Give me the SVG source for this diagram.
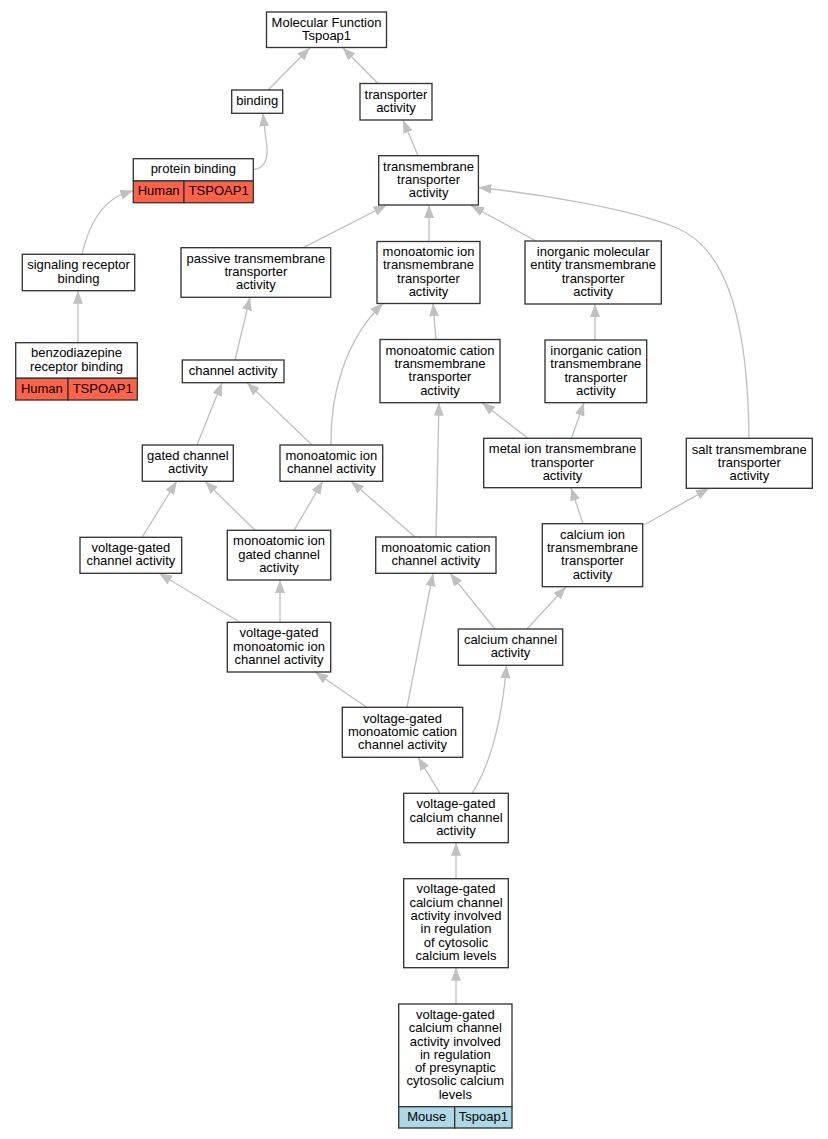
<svg xmlns="http://www.w3.org/2000/svg" width="828" height="1139" viewBox="0 0 828 1139">
<style>
text{font-family:"Liberation Sans",Arial,sans-serif;font-size:13px;text-anchor:middle;fill:#000}
.box{fill:#fff;stroke:#333;stroke-width:1.33}
.red{fill:#ff6347;stroke:#333;stroke-width:1.33}
.blue{fill:#add8e6;stroke:#333;stroke-width:1.33}
.e{fill:none;stroke:#c0c0c0;stroke-width:1.33;marker-end:url(#ah)}
</style>
<defs>
<marker id="ah" markerUnits="userSpaceOnUse" viewBox="0 0 13 10" markerWidth="13" markerHeight="10" refX="13" refY="5" orient="auto">
<path d="M0,0 L13,5 L0,10 z" fill="#c0c0c0"/>
</marker>
</defs>
<rect width="828" height="1139" fill="#fff"/>
<g id="edges">
<path class="e" d="M268,90 L310,47.7"/>
<path class="e" d="M378,83.5 L342.7,47.7"/>
<path class="e" d="M253.3,169.3 C262,169.3 268,162 267,148 C266,138 264,125 263,113.3"/>
<path class="e" d="M82,254.3 C88,228 100,205 120,195 L133.3,190.5"/>
<path class="e" d="M78,342.7 L78,290.7"/>
<path class="e" d="M418,155.7 L403,120"/>
<path class="e" d="M303.3,247.7 L386.7,205"/>
<path class="e" d="M429,241.5 L429,205"/>
<path class="e" d="M536,241 L471,205.5"/>
<path class="e" d="M749,438.3 C748,330 730,250 677,228 C625,207 530,193 478.3,187.5"/>
<path class="e" d="M436,339.5 L433,303.3"/>
<path class="e" d="M595,340 L595,304"/>
<path class="e" d="M235,360 L250,297.3"/>
<path class="e" d="M331,445 C330,395 345,340 383,303.3"/>
<path class="e" d="M528,438.3 L482,402.7"/>
<path class="e" d="M571.5,438.3 L584,402.7"/>
<path class="e" d="M197,445 L222,382.7"/>
<path class="e" d="M312,445 L247,382.7"/>
<path class="e" d="M583,523.7 L571,487.7"/>
<path class="e" d="M644,525 L709,488.3"/>
<path class="e" d="M142,537.3 L176.7,481.3"/>
<path class="e" d="M255,530.3 L205,481.3"/>
<path class="e" d="M294,530.3 L322.7,481.3"/>
<path class="e" d="M415,537 L351,481.3"/>
<path class="e" d="M436,537 L439,402.7"/>
<path class="e" d="M240,622.3 L159,573.3"/>
<path class="e" d="M280,622.3 L280,580"/>
<path class="e" d="M495,629 L450,573.3"/>
<path class="e" d="M527,629 L566,586.7"/>
<path class="e" d="M366.7,707.3 L315,672"/>
<path class="e" d="M407,707.3 L433,573.3"/>
<path class="e" d="M440,793.3 L418,757.3"/>
<path class="e" d="M472,793.3 C492,762 502,720 506.5,665.3"/>
<path class="e" d="M456,878.7 L456,842.7"/>
<path class="e" d="M456,1004 L456,967.7"/>
</g>
<g id="n_mf"><rect class="box" x="266.5" y="12" width="120" height="35.5"/><text x="326.5" y="26.6">Molecular Function</text><text x="326.5" y="39.9">Tspoap1</text></g>
<g id="n_binding"><rect class="box" x="231.7" y="90" width="51" height="23.3"/><text x="257.2" y="105.15">binding</text></g>
<g id="n_transporter"><rect class="box" x="360" y="83.5" width="72" height="36.5"/><text x="396" y="98.6">transporter</text><text x="396" y="111.9">activity</text></g>
<g id="n_protein"><rect class="box" x="133.3" y="158.7" width="120" height="22.3"/><rect class="red" x="133.3" y="181" width="50.7" height="21.7"/><rect class="red" x="184" y="181" width="69.3" height="21.7"/><text x="193.3" y="173.3">protein binding</text><text x="158.65" y="195.3">Human</text><text x="218.65" y="195.3">TSPOAP1</text></g>
<g id="n_tm"><rect class="box" x="378.7" y="155.7" width="99.7" height="49.3"/><text x="428.55" y="170.55">transmembrane</text><text x="428.55" y="183.85">transporter</text><text x="428.55" y="197.15">activity</text></g>
<g id="n_signal"><rect class="box" x="22.3" y="254.3" width="112.4" height="36.4"/><text x="78.5" y="269.35">signaling receptor</text><text x="78.5" y="282.65">binding</text></g>
<g id="n_passive"><rect class="box" x="181" y="247.7" width="149.7" height="49.6"/><text x="255.85" y="262.7">passive transmembrane</text><text x="255.85" y="276">transporter</text><text x="255.85" y="289.3">activity</text></g>
<g id="n_iontm"><rect class="box" x="377" y="241.5" width="103" height="62"/><text x="428.5" y="256.05">monoatomic ion</text><text x="428.5" y="269.35">transmembrane</text><text x="428.5" y="282.65">transporter</text><text x="428.5" y="295.95">activity</text></g>
<g id="n_inorgmol"><rect class="box" x="525" y="241" width="136.3" height="63"/><text x="593.15" y="256.05">inorganic molecular</text><text x="593.15" y="269.35">entity transmembrane</text><text x="593.15" y="282.65">transporter</text><text x="593.15" y="295.95">activity</text></g>
<g id="n_benzo"><rect class="box" x="15.7" y="342.7" width="121.6" height="35.6"/><rect class="red" x="15.7" y="378.3" width="52.3" height="21.7"/><rect class="red" x="68" y="378.3" width="69.3" height="21.7"/><text x="76.5" y="357.3">benzodiazepine</text><text x="76.5" y="370.6">receptor binding</text><text x="41.85" y="392.6">Human</text><text x="102.65" y="392.6">TSPOAP1</text></g>
<g id="n_channel"><rect class="box" x="182.3" y="360" width="101.7" height="22.7"/><text x="233.15" y="374.85">channel activity</text></g>
<g id="n_cattm"><rect class="box" x="380" y="339.5" width="120" height="63.2"/><text x="440" y="354.65">monoatomic cation</text><text x="440" y="367.95">transmembrane</text><text x="440" y="381.25">transporter</text><text x="440" y="394.55">activity</text></g>
<g id="n_inorgcat"><rect class="box" x="545" y="340" width="101.7" height="62.7"/><text x="595.85" y="354.9">inorganic cation</text><text x="595.85" y="368.2">transmembrane</text><text x="595.85" y="381.5">transporter</text><text x="595.85" y="394.8">activity</text></g>
<g id="n_gated"><rect class="box" x="142.3" y="445" width="91" height="36.3"/><text x="187.8" y="460">gated channel</text><text x="187.8" y="473.3">activity</text></g>
<g id="n_ionch"><rect class="box" x="280" y="445" width="102.7" height="36.3"/><text x="331.35" y="460">monoatomic ion</text><text x="331.35" y="473.3">channel activity</text></g>
<g id="n_metal"><rect class="box" x="483.7" y="438.3" width="157.6" height="49.4"/><text x="562.5" y="453.2">metal ion transmembrane</text><text x="562.5" y="466.5">transporter</text><text x="562.5" y="479.8">activity</text></g>
<g id="n_salt"><rect class="box" x="686.3" y="438.3" width="126" height="50"/><text x="749.3" y="453.5">salt transmembrane</text><text x="749.3" y="466.8">transporter</text><text x="749.3" y="480.1">activity</text></g>
<g id="n_vgch"><rect class="box" x="80" y="537.3" width="101.7" height="36"/><text x="130.85" y="552.15">voltage-gated</text><text x="130.85" y="565.45">channel activity</text></g>
<g id="n_iongated"><rect class="box" x="227.3" y="530.3" width="103.4" height="49.7"/><text x="279" y="545.35">monoatomic ion</text><text x="279" y="558.65">gated channel</text><text x="279" y="571.95">activity</text></g>
<g id="n_catch"><rect class="box" x="375.7" y="537" width="120.3" height="36.3"/><text x="435.85" y="552">monoatomic cation</text><text x="435.85" y="565.3">channel activity</text></g>
<g id="n_caiontm"><rect class="box" x="542.3" y="523.7" width="100.4" height="63"/><text x="592.5" y="538.75">calcium ion</text><text x="592.5" y="552.05">transmembrane</text><text x="592.5" y="565.35">transporter</text><text x="592.5" y="578.65">activity</text></g>
<g id="n_vgion"><rect class="box" x="227.3" y="622.3" width="103.4" height="49.7"/><text x="279" y="637.35">voltage-gated</text><text x="279" y="650.65">monoatomic ion</text><text x="279" y="663.95">channel activity</text></g>
<g id="n_cach"><rect class="box" x="458.3" y="629" width="104.4" height="36.3"/><text x="510.5" y="644">calcium channel</text><text x="510.5" y="657.3">activity</text></g>
<g id="n_vgcat"><rect class="box" x="342.3" y="707.3" width="120.4" height="50"/><text x="402.5" y="722.5">voltage-gated</text><text x="402.5" y="735.8">monoatomic cation</text><text x="402.5" y="749.1">channel activity</text></g>
<g id="n_vgca"><rect class="box" x="403.7" y="793.3" width="104.6" height="49.4"/><text x="456" y="808.2">voltage-gated</text><text x="456" y="821.5">calcium channel</text><text x="456" y="834.8">activity</text></g>
<g id="n_cyto"><rect class="box" x="403.7" y="878.7" width="104.6" height="89"/><text x="456" y="893.45">voltage-gated</text><text x="456" y="906.75">calcium channel</text><text x="456" y="920.05">activity involved</text><text x="456" y="933.35">in regulation</text><text x="456" y="946.65">of cytosolic</text><text x="456" y="959.95">calcium levels</text></g>
<g id="n_presyn"><rect class="box" x="398.7" y="1004" width="113.3" height="102.7"/><rect class="blue" x="398.7" y="1106.7" width="56" height="21.3"/><rect class="blue" x="454.7" y="1106.7" width="57.3" height="21.3"/><text x="455.35" y="1018.95">voltage-gated</text><text x="455.35" y="1032.25">calcium channel</text><text x="455.35" y="1045.55">activity involved</text><text x="455.35" y="1058.85">in regulation</text><text x="455.35" y="1072.15">of presynaptic</text><text x="455.35" y="1085.45">cytosolic calcium</text><text x="455.35" y="1098.75">levels</text><text x="426.7" y="1120.8">Mouse</text><text x="483.35" y="1120.8">Tspoap1</text></g>
</svg>
